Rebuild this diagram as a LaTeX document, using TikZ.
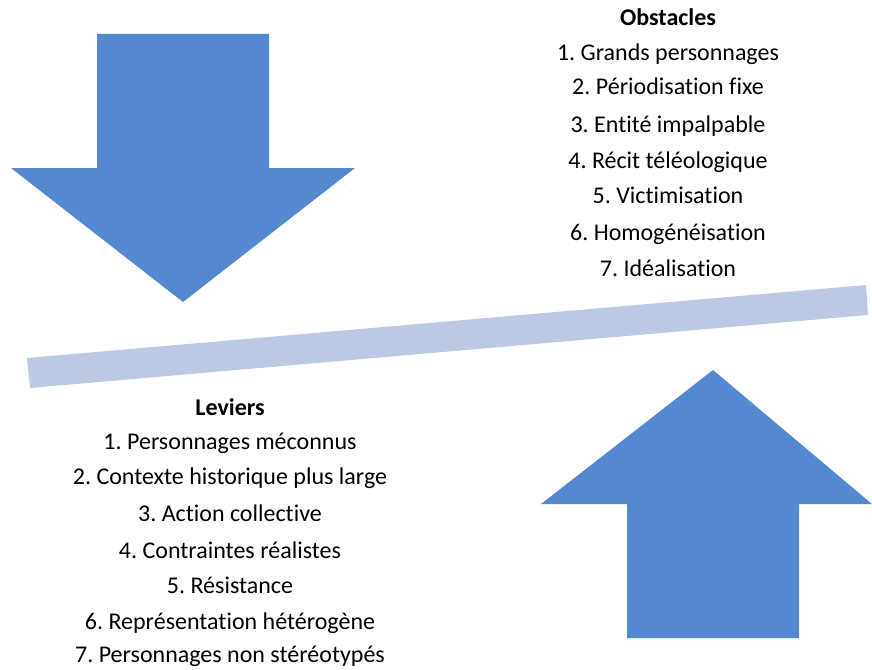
\documentclass[tikz,border=0pt]{standalone}
\usepackage{fontspec}
\setmainfont{Carlito}[Ligatures=NoCommon]
\frenchspacing
\definecolor{arrowblue}{HTML}{5588CF}
\definecolor{barblue}{HTML}{BDC9E3}
\begin{document}
\begin{tikzpicture}[x=1pt,y=-1pt,
  bigarrow/.style={fill=arrowblue,draw=none},
  beam/.style={fill=barblue,draw=none},
  txt/.style={inner sep=0pt,anchor=base,font=\fontsize{24}{28}\selectfont},
  ttl/.style={txt,font=\fontsize{24}{28}\selectfont\bfseries}]
\useasboundingbox (0,0) rectangle (872,669);
% down arrow
\fill[bigarrow] (97,34) -- (269,34) -- (269,168) -- (355,168) -- (183,302) -- (11,168) -- (97,168) -- cycle;
% up arrow
\fill[bigarrow] (627,638) -- (799,638) -- (799,504) -- (872,504) -- (713,370) -- (541,504) -- (627,504) -- cycle;
% beam
\fill[beam] (27,358) -- (866,285) -- (868,315) -- (30,388) -- cycle;
% obstacles
\node[ttl] (ot) at (668,26) {Obstacles};
\node[txt] (o1) at (668,60) {1. Grands personnages};
\node[txt] (o2) at (668,94) {2. Périodisation fixe};
\node[txt] (o3) at (668,132) {3. Entité impalpable};
\node[txt] (o4) at (668,168) {4. Récit téléologique};
\node[txt] (o5) at (668,203) {5. Victimisation};
\node[txt] (o6) at (668,240) {6. Homogénéisation};
\node[txt] (o7) at (668,276) {7. Idéalisation};
% leviers
\node[ttl] (lt) at (230,415) {Leviers};
\node[txt] (l1) at (230,449) {1. Personnages méconnus};
\node[txt] (l2) at (230,484) {2. Contexte historique plus large};
\node[txt] (l3) at (230,521) {3. Action collective};
\node[txt] (l4) at (230,558) {4. Contraintes réalistes};
\node[txt] (l5) at (230,593) {5. Résistance};
\node[txt] (l6) at (230,629) {6. Représentation hétérogène};
\node[txt] (l7) at (230,662) {7. Personnages non stéréotypés};
\end{tikzpicture}
\end{document}
